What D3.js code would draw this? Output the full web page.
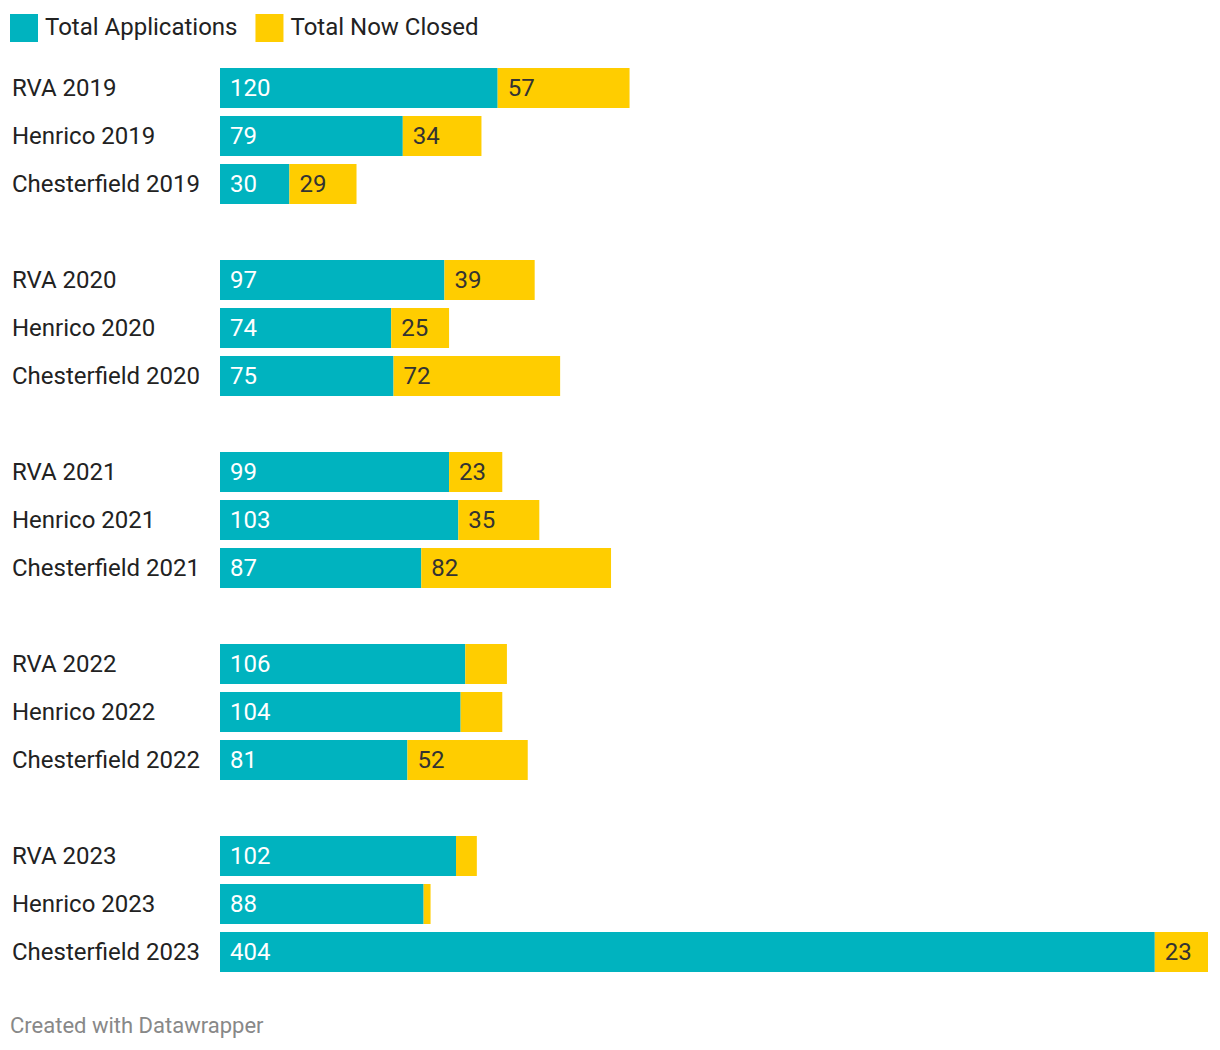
<!DOCTYPE html>
<html>
<head>
<meta charset="utf-8">
<script src="https://cdn.jsdelivr.net/npm/d3@7"></script>
<style>
  body { margin: 0; background: #fff; font-family: Roboto, "Noto Sans", sans-serif; }
</style>
</head>
<body>
<div class="chart"></div>
<script>
const svgWidth = 1220
const svgHeight = 1050

// rows, top to bottom ("" = blank spacer row between years)
const rows = [
  "RVA 2019", "Henrico 2019", "Chesterfield 2019", "",
  "RVA 2020", "Henrico 2020", "Chesterfield 2020", "",
  "RVA 2021", "Henrico 2021", "Chesterfield 2021", "",
  "RVA 2022", "Henrico 2022", "Chesterfield 2022", "",
  "RVA 2023", "Henrico 2023", "Chesterfield 2023"
]
const totalApplications = [120, 79, 30, null, 97, 74, 75, null, 99, 103, 87, null, 106, 104, 81, null, 102, 88, 404]
const totalClosed = [57, 34, 29, null, 39, 25, 72, null, 23, 35, 82, null, 18, 18, 52, null, 9, 3, 23]
const seriesNames = ["Total Applications", "Total Now Closed"]
const colors = ["#00b3bf", "#ffcd00"]

let margin = { top: 64, left: 220, right: 12 }
let fontSize = 24

let svg = d3
  .select(".chart")
  .append("svg")
  .attr("width", svgWidth)
  .attr("height", svgHeight)

// legend
let legend = svg.append("g")
let lx = 10
seriesNames.forEach((name, i) => {
  let g = legend.append("g").attr("transform", `translate(${lx}, 14)`)
  g.append("rect").attr("width", 28).attr("height", 28).attr("fill", colors[i])
  let t = g.append("text")
    .attr("x", 35)
    .attr("y", 13)
    .attr("dy", "0.35em")
    .attr("font-size", fontSize)
    .attr("fill", "#222")
    .text(name)
  lx += 35 + t.node().getComputedTextLength() + 18
})

let data = rows.map((r, i) => ({ label: r, apps: totalApplications[i], closed: totalClosed[i], key: i }))

let x = d3.scaleLinear()
  .domain([0, d3.max(data, d => (d.apps || 0) + (d.closed || 0))])
  .range([margin.left, svgWidth - margin.right])

let y = d3.scaleBand()
  .domain(data.map(d => d.key))
  .range([margin.top, margin.top + rows.length * 48])
  .paddingInner(8 / 48)
  .paddingOuter(4 / 48)

let bars = data.filter(d => d.apps != null)

let chartGroup = svg.append("g")

// row labels
chartGroup.selectAll(".row-label")
  .data(bars)
  .enter()
  .append("text")
  .attr("x", 12)
  .attr("y", d => y(d.key) + y.bandwidth() / 2)
  .attr("dy", "0.35em")
  .attr("font-size", fontSize)
  .attr("fill", "#222")
  .text(d => d.label)

// blue segments
chartGroup.selectAll(".apps")
  .data(bars)
  .enter()
  .append("rect")
  .attr("x", x(0))
  .attr("y", d => y(d.key))
  .attr("width", d => x(d.apps) - x(0))
  .attr("height", y.bandwidth())
  .attr("fill", colors[0])

// yellow segments
chartGroup.selectAll(".closed")
  .data(bars)
  .enter()
  .append("rect")
  .attr("x", d => x(d.apps))
  .attr("y", d => y(d.key))
  .attr("width", d => x(d.apps + d.closed) - x(d.apps))
  .attr("height", y.bandwidth())
  .attr("fill", colors[1])

// value labels
chartGroup.selectAll(".apps-label")
  .data(bars)
  .enter()
  .append("text")
  .attr("x", x(0) + 10)
  .attr("y", d => y(d.key) + y.bandwidth() / 2)
  .attr("dy", "0.35em")
  .attr("font-size", fontSize)
  .attr("fill", "#fff")
  .text(d => d.apps)

chartGroup.selectAll(".closed-label")
  .data(bars.filter(d => x(d.apps + d.closed) - x(d.apps) > 50))
  .enter()
  .append("text")
  .attr("x", d => x(d.apps) + 10)
  .attr("y", d => y(d.key) + y.bandwidth() / 2)
  .attr("dy", "0.35em")
  .attr("font-size", fontSize)
  .attr("fill", "#333")
  .text(d => d.closed)

svg.append("text")
  .attr("x", 10)
  .attr("y", 1033)
  .attr("font-size", 22)
  .attr("fill", "#888")
  .text("Created with Datawrapper")
</script>
</body>
</html>
